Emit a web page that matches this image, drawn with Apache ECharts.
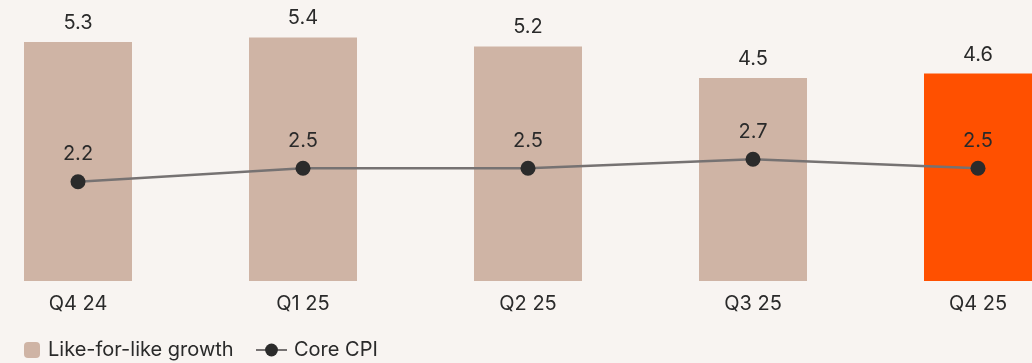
<!DOCTYPE html>
<html lang="en">
<head>
    <meta charset="UTF-8">
    <title>Like-for-like growth vs Core CPI</title>
    <style>
        html, body { margin: 0; padding: 0; background: #f8f4f1; }
    </style>
</head>
<body>
<div id="main" style="width: 1032px;height:363px;"></div>
<script src="https://cdn.jsdelivr.net/npm/echarts@6/dist/echarts.min.js"></script>
<script>
    // data
    var quarters = ['Q4 24', 'Q1 25', 'Q2 25', 'Q3 25', 'Q4 25'];
    var lflGrowth = [5.3, 5.4, 5.2, 4.5, 4.6];
    var coreCpi = [2.2, 2.5, 2.5, 2.7, 2.5];

    var barColor = '#cfb4a5';
    var hiColor = '#ff5000';
    var font = 'Inter, "Noto Sans", sans-serif';

    var app = echarts.init(document.getElementById('main'));
    var option = {
        backgroundColor: '#f8f4f1',
        animation: false,
        textStyle: { fontFamily: font },
        grid: {
            left: -34.5,
            width: 1125,
            top: 10.4,
            height: 270.6,
            containLabel: false,
            outerBoundsMode: 'none'
        },
        legend: [
            {
                left: 24,
                top: 340,
                padding: 0,
                itemWidth: 16,
                itemHeight: 16,
                data: ['Like-for-like growth'],
                textStyle: { color: '#2a2a2a', fontSize: 20, fontFamily: font, padding: [0, 0, 0, 3] }
            },
            {
                left: 255,
                top: 340,
                padding: 0,
                itemWidth: 31,
                itemHeight: 16,
                data: ['Core CPI'],
                textStyle: { color: '#2a2a2a', fontSize: 20, fontFamily: font, padding: [0, 0, 0, 2] }
            }
        ],
        xAxis: {
            type: 'category',
            data: quarters,
            axisLine: { show: false },
            axisTick: { show: false },
            axisLabel: {
                color: '#2a2a2a',
                fontSize: 20,
                margin: 13,
                fontFamily: font
            }
        },
        yAxis: {
            type: 'value',
            min: 0,
            max: 6,
            show: false,
            splitLine: { show: false }
        },
        series: [
            {
                name: 'Like-for-like growth',
                type: 'bar',
                barWidth: 108,
                itemStyle: { color: barColor },
                label: {
                    show: true,
                    position: 'top',
                    distance: 9,
                    color: '#2a2a2a',
                    fontSize: 20,
                    fontFamily: font
                },
                data: lflGrowth.map(function (v, i) {
                    if (i === lflGrowth.length - 1) {
                        return { value: v, itemStyle: { color: hiColor } };
                    }
                    return v;
                })
            },
            {
                name: 'Core CPI',
                type: 'line',
                symbol: 'circle',
                symbolSize: 15,
                lineStyle: { color: '#767272', width: 2.5 },
                itemStyle: { color: '#2b2b2b' },
                label: {
                    show: true,
                    position: 'top',
                    distance: 10,
                    color: '#2a2a2a',
                    fontSize: 20,
                    fontFamily: font
                },
                data: coreCpi
            }
        ]
    };
    app.setOption(option);
</script>
</body>
</html>
